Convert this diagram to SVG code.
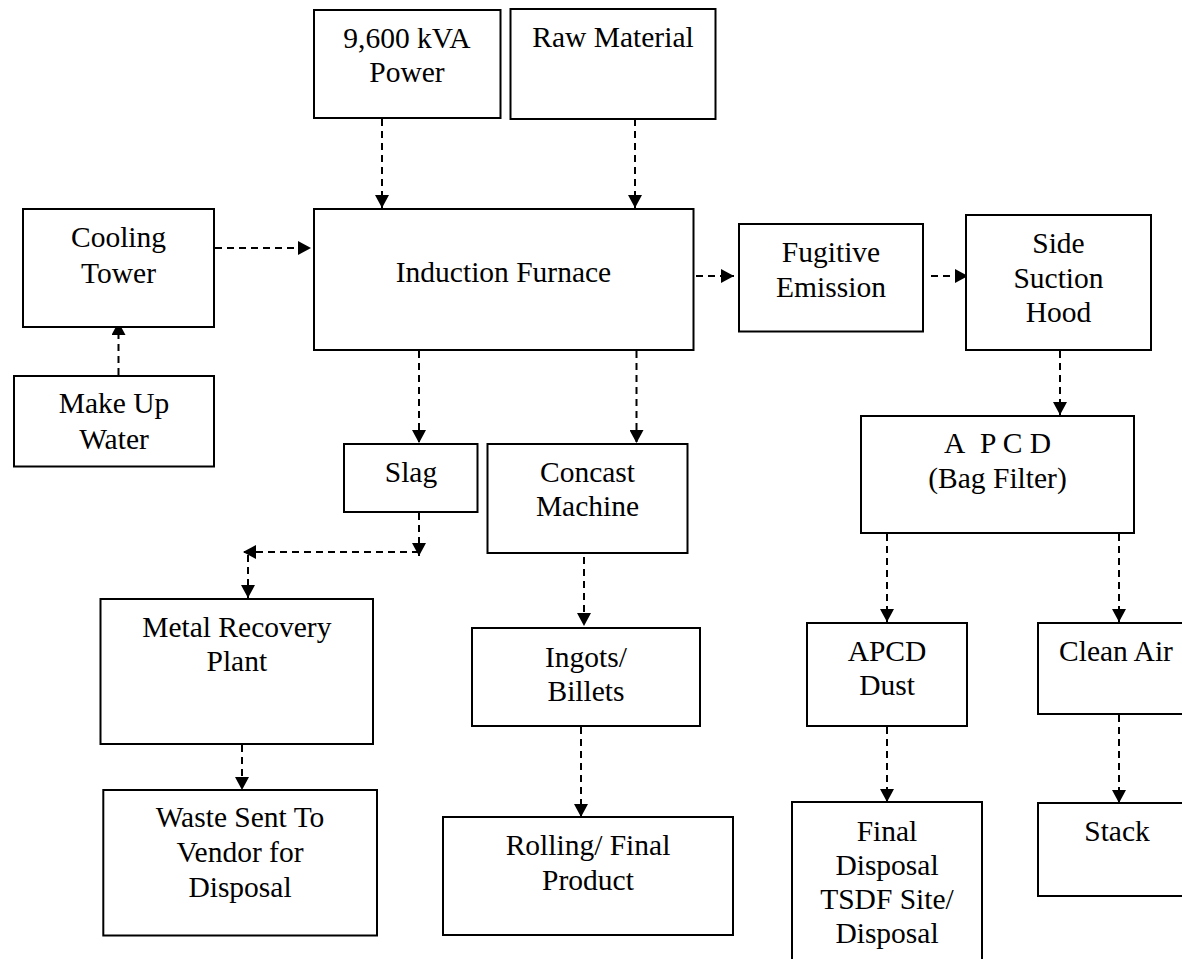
<svg xmlns="http://www.w3.org/2000/svg" width="1182" height="959" viewBox="0 0 1182 959">
<style>
.box{fill:#fff;stroke:#000;stroke-width:2}
.t{font-family:"Liberation Serif","Times New Roman",serif;font-size:29.5px;fill:#000;text-anchor:middle}
.c{fill:none;stroke:#000;stroke-width:2;stroke-dasharray:7 5}
</style>
<defs>
<marker id="ah" markerUnits="userSpaceOnUse" markerWidth="14" markerHeight="14" refX="13" refY="7" orient="auto">
<path d="M0,0 L13,7 L0,14 z" fill="#000"/>
</marker>
</defs>
<rect width="1182" height="959" fill="#fff"/>
<g id="connectors">
<line class="c" x1="382" y1="119" x2="382" y2="208" marker-end="url(#ah)"/>
<line class="c" x1="635" y1="119" x2="635" y2="208" marker-end="url(#ah)"/>
<line class="c" x1="215" y1="248" x2="311" y2="248" marker-end="url(#ah)"/>
<line class="c" x1="118.5" y1="375" x2="118.5" y2="322" marker-end="url(#ah)"/>
<line class="c" x1="419" y1="351" x2="419" y2="443" marker-end="url(#ah)"/>
<line class="c" x1="636.5" y1="351" x2="636.5" y2="443" marker-end="url(#ah)"/>
<line class="c" x1="696" y1="276" x2="734" y2="276" marker-end="url(#ah)"/>
<line class="c" x1="931" y1="276" x2="968" y2="276" marker-end="url(#ah)"/>
<line class="c" x1="1060" y1="351" x2="1060" y2="415" marker-end="url(#ah)"/>
<line class="c" x1="419" y1="513" x2="419" y2="556" marker-end="url(#ah)"/>
<line class="c" x1="419" y1="552" x2="243" y2="552" marker-end="url(#ah)"/>
<line class="c" x1="248" y1="555" x2="248" y2="598" marker-end="url(#ah)"/>
<line class="c" x1="242" y1="745" x2="242" y2="790" marker-end="url(#ah)"/>
<line class="c" x1="584" y1="533" x2="584" y2="626" marker-end="url(#ah)"/>
<line class="c" x1="581" y1="727" x2="581" y2="817" marker-end="url(#ah)"/>
<line class="c" x1="887" y1="534" x2="887" y2="622" marker-end="url(#ah)"/>
<line class="c" x1="1119" y1="534" x2="1119" y2="622" marker-end="url(#ah)"/>
<line class="c" x1="887" y1="727" x2="887" y2="802" marker-end="url(#ah)"/>
<line class="c" x1="1119" y1="715" x2="1119" y2="803" marker-end="url(#ah)"/>
</g>
<g id="power"><rect class="box" x="314" y="10" width="186.5" height="108"/>
<text class="t" x="407" y="48">9,600 kVA</text><text class="t" x="407" y="82">Power</text></g>
<g id="raw"><rect class="box" x="510.5" y="9" width="205" height="110"/>
<text class="t" x="613" y="47">Raw Material</text></g>
<g id="cooling"><rect class="box" x="23" y="209" width="191" height="118"/>
<text class="t" x="118.5" y="247">Cooling</text><text class="t" x="118.5" y="283">Tower</text></g>
<g id="furnace"><rect class="box" x="314" y="209" width="379.5" height="141"/>
<text class="t" x="503.5" y="282">Induction Furnace</text></g>
<g id="makeup"><rect class="box" x="14" y="376" width="200" height="90.5"/>
<text class="t" x="114" y="413">Make Up</text><text class="t" x="114" y="449">Water</text></g>
<g id="fugitive"><rect class="box" x="739" y="224" width="184" height="107.5"/>
<text class="t" x="831" y="262">Fugitive</text><text class="t" x="831" y="297">Emission</text></g>
<g id="hood"><rect class="box" x="966" y="215" width="185" height="135"/>
<text class="t" x="1058.5" y="253">Side</text><text class="t" x="1058.5" y="287.5">Suction</text><text class="t" x="1058.5" y="322">Hood</text></g>
<g id="slag"><rect class="box" x="344" y="444" width="133.5" height="68"/>
<text class="t" x="411" y="482">Slag</text></g>
<g id="concast"><rect class="box" x="487.5" y="444" width="200" height="109"/>
<text class="t" x="587.5" y="482">Concast</text><text class="t" x="587.5" y="516">Machine</text></g>
<g id="apcd"><rect class="box" x="861" y="416" width="273" height="117"/>
<text class="t" x="997.5" y="453">A&#160;&#160;P C D</text><text class="t" x="997.5" y="488">(Bag Filter)</text></g>
<g id="metal"><rect class="box" x="100.5" y="599" width="272.5" height="145"/>
<text class="t" x="236.8" y="637">Metal Recovery</text><text class="t" x="236.8" y="671">Plant</text></g>
<g id="ingots"><rect class="box" x="472" y="628" width="228" height="98"/>
<text class="t" x="586" y="667">Ingots/</text><text class="t" x="586" y="701">Billets</text></g>
<g id="dust"><rect class="box" x="807" y="623" width="160" height="103"/>
<text class="t" x="887" y="661">APCD</text><text class="t" x="887" y="695">Dust</text></g>
<g id="cleanair"><rect class="box" x="1038" y="623" width="160" height="91"/>
<text class="t" x="1116" y="661">Clean Air</text></g>
<g id="waste"><rect class="box" x="103.3" y="790" width="273.7" height="145.5"/>
<text class="t" x="240" y="827">Waste Sent To</text><text class="t" x="240" y="862">Vendor for</text><text class="t" x="240" y="897">Disposal</text></g>
<g id="rolling"><rect class="box" x="443" y="817" width="290" height="118"/>
<text class="t" x="588" y="854.5">Rolling/ Final</text><text class="t" x="588" y="890">Product</text></g>
<g id="final"><rect class="box" x="792" y="802" width="190" height="170"/>
<text class="t" x="887" y="841">Final</text><text class="t" x="887" y="875">Disposal</text><text class="t" x="887" y="909">TSDF Site/</text><text class="t" x="887" y="943">Disposal</text></g>
<g id="stack"><rect class="box" x="1038" y="803" width="160" height="93"/>
<text class="t" x="1117" y="841">Stack</text></g>
</svg>
